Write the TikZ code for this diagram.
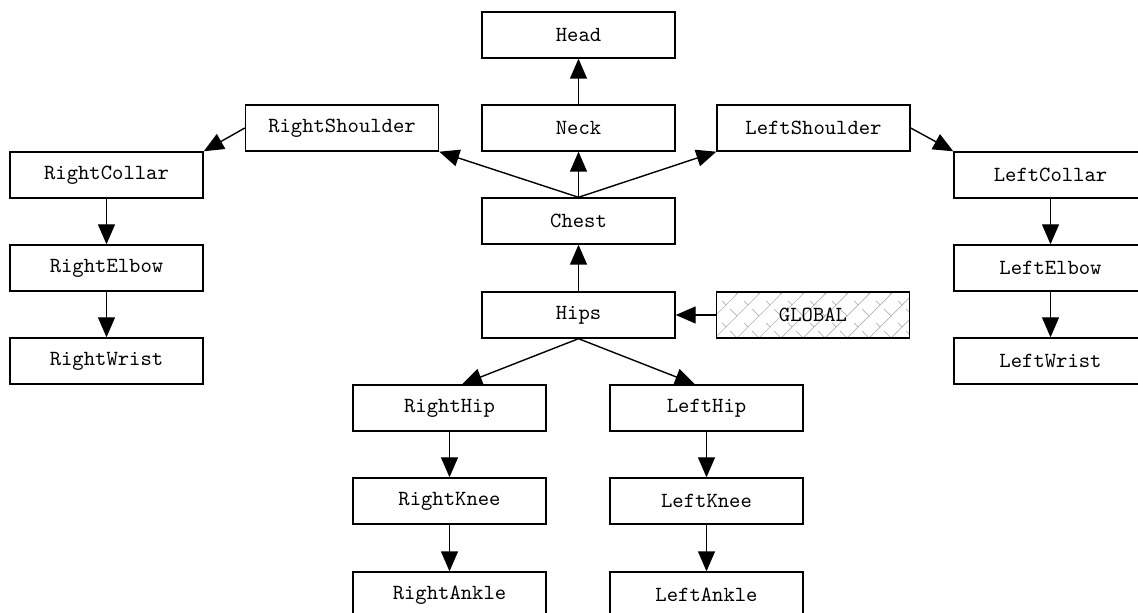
\documentclass[tikz,border=0pt]{standalone}
\usepackage{tikz}
\usetikzlibrary{arrows.meta,calc,patterns.meta}

\tikzdeclarepattern{
  name=netfill,
  type=uncolored,
  bounding box={(-.2pt,-.2pt) and (11.2pt,11.2pt)},
  tile size={(11pt,11pt)},
  code={
    \draw[line width=.35pt] (0pt,0pt) -- (11pt,11pt);
    \draw[line width=.35pt] (5.5pt,5.5pt) -- (2pt,9pt);
    \draw[line width=.35pt] (9pt,2pt) -- (11pt,0pt);
  }
}

\begin{document}
\begin{tikzpicture}[
  x=0.5pt,y=-0.5pt,
  joint/.style={draw,line width=0.7pt,minimum width=96.5pt,minimum height=23pt,inner sep=0pt,
    font=\fontsize{10.8}{13}\selectfont\ttfamily},
  link/.style={line width=0.7pt,-{Triangle[length=10pt,width=8.5pt]}}
]
  \clip (0,0) rectangle (1138,613);
  \node[joint] (head) at (578.5,35) {Head};
  \node[joint] (neck) at (578.5,128) {Neck};
  \node[joint] (chest) at (578.5,221) {Chest};
  \node[joint] (hips) at (578.5,315) {Hips};
  \node[joint,pattern=netfill,pattern color=gray!60] (global) at (813,315) {GLOBAL};
  \node[joint] (rshoulder) at (342,128) {RightShoulder};
  \node[joint] (lshoulder) at (813.5,128) {LeftShoulder};
  \node[joint] (rcollar) at (106.5,175) {RightCollar};
  \node[joint] (relbow) at (106.5,268) {RightElbow};
  \node[joint] (rwrist) at (106.5,361) {RightWrist};
  \node[joint] (lcollar) at (1050.5,175) {LeftCollar};
  \node[joint] (lelbow) at (1050.5,268) {LeftElbow};
  \node[joint] (lwrist) at (1050.5,361) {LeftWrist};
  \node[joint] (rhip) at (449.5,408) {RightHip};
  \node[joint] (rknee) at (449.5,501) {RightKnee};
  \node[joint] (rankle) at (449.5,595) {RightAnkle};
  \node[joint] (lhip) at (706.5,408) {LeftHip};
  \node[joint] (lknee) at (706.5,501) {LeftKnee};
  \node[joint] (lankle) at (706.5,595) {LeftAnkle};

  \draw[link] (neck) -- (head);
  \draw[link] (chest.north) -- (neck.south);
  \draw[link] (chest.north) -- (rshoulder.south east);
  \draw[link] (chest.north) -- (lshoulder.south west);
  \draw[link] (hips) -- (chest);
  \draw[link] (global) -- (hips);
  \draw[link] (rshoulder.west) -- (rcollar.north east);
  \draw[link] (lshoulder.east) -- (lcollar.north west);
  \draw[link] (rcollar) -- (relbow);
  \draw[link] (relbow) -- (rwrist);
  \draw[link] (lcollar) -- (lelbow);
  \draw[link] (lelbow) -- (lwrist);
  \draw[link] (hips.south) -- ($(rhip.north)+(12.5,0)$);
  \draw[link] (hips.south) -- ($(lhip.north)+(-11.5,0)$);
  \draw[link] (rhip) -- (rknee);
  \draw[link] (rknee) -- (rankle);
  \draw[link] (lhip) -- (lknee);
  \draw[link] (lknee) -- (lankle);
\end{tikzpicture}
\end{document}
